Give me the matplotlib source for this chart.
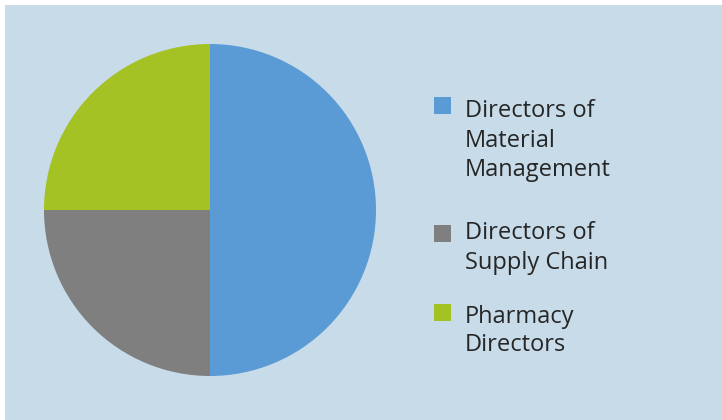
import matplotlib
matplotlib.use("Agg")
import matplotlib.pyplot as plt
from matplotlib.patches import Rectangle

labels = ["Directors of Material Management", "Directors of Supply Chain", "Pharmacy Directors"]
label_lines = [["Directors of", "Material", "Management"], ["Directors of", "Supply Chain"], ["Pharmacy", "Directors"]]
values = [50, 25, 25]
colors = ["#5B9BD5", "#7F7F7F", "#A5C224"]

W, H = 722, 420
fig = plt.figure(figsize=(W / 100, H / 100), dpi=100)
fig.patch.set_facecolor("white")
# background panel
fig.patches.append(Rectangle((5 / W, 0), 1 - 5 / W, 1 - 5 / H, transform=fig.transFigure,
                             facecolor="#C7DBE8", edgecolor="none", zorder=-10))

cx, cy, r = 210, 210, 166
ax = fig.add_axes([(cx - r) / W, (H - cy - r) / H, 2 * r / W, 2 * r / H])
ax.set_zorder(5)
ax.set_facecolor("none")
ax.pie(values, colors=colors, startangle=90, counterclock=False,
       wedgeprops=dict(linewidth=0), radius=1)
ax.set_xlim(-1, 1)
ax.set_ylim(-1, 1)
ax.set_aspect("equal")
ax.axis("off")

font = "Open Sans"
sq_tops = [97, 225, 304]
baselines = [[117, 147, 176], [239, 269], [323, 351]]
for i, (lines, top) in enumerate(zip(label_lines, sq_tops)):
    fig.patches.append(Rectangle((434 / W, (H - top - 17) / H), 17 / W, 17 / H,
                                 transform=fig.transFigure, facecolor=colors[i],
                                 edgecolor="none", zorder=2))
    for line, b in zip(lines, baselines[i]):
        fig.text(465 / W, (H - b) / H, line, fontsize=17, family=font,
                 color="#262626", va="baseline", ha="left")

fig.savefig("out.png", dpi=100)
